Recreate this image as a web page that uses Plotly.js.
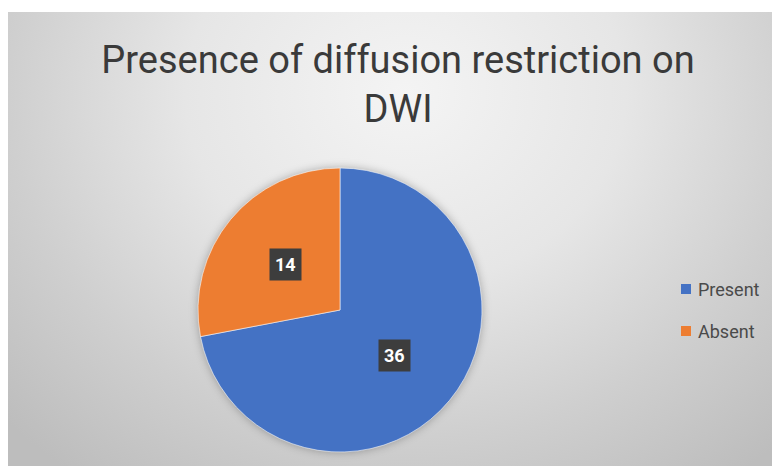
<!DOCTYPE html>
<html>
<head>
<meta charset="utf-8">
<script src="https://cdn.plot.ly/plotly-3.0.1.min.js"></script>
<style>
  html, body { margin: 0; padding: 0; background: #ffffff; }
  #wrap { position: relative; width: 772px; height: 466px; overflow: hidden; }
  #bg {
    position: absolute; left: 8px; top: 12px; width: 764px; height: 454px;
    background: radial-gradient(ellipse 72% 105% at 52% 18%, #f4f4f4 0%, #e6e6e6 40%, #cfcfcf 72%, #bdbdbd 100%);
  }
  #chart { position: absolute; left: 0; top: 0; width: 772px; height: 466px; }
  #chart .pielayer { filter: drop-shadow(0 0 4px rgba(0,0,0,0.28)); }
</style>
</head>
<body>
<div id="wrap">
  <div id="bg"></div>
  <div id="chart"></div>
</div>
<script>
// Diffusion restriction counts on DWI
const categories = ['Present', 'Absent'];
const counts = [36, 14];
const sliceColors = ['#4472C4', '#ED7D31'];

const W = 772, H = 466;
// pie geometry in pixels
const cx = 340, cy = 310, r = 142;

// place a dark value box at the middle of each slice (clockwise from 12 o'clock)
const total = counts.reduce((a, b) => a + b, 0);
const annotations = [];
let start = 0;
counts.forEach((v, i) => {
  const mid = (start + v / 2) / total * 2 * Math.PI;
  start += v;
  const px = cx + 0.5 * r * Math.sin(mid);
  const py = cy - 0.5 * r * Math.cos(mid);
  annotations.push({
    x: px / W, y: 1 - py / H, xref: 'paper', yref: 'paper',
    text: '<b>' + v + '</b>', showarrow: false,
    font: { family: 'Roboto, Arial, sans-serif', size: 18, color: '#ffffff' },
    bgcolor: '#3d3d3d', borderpad: 5, xanchor: 'center', yanchor: 'middle'
  });
});

// legend drawn beside the pie
const shapes = [];
const legX = 681, legY0 = 289, legStep = 42, sq = 10;
categories.forEach((name, i) => {
  const y = legY0 + i * legStep;
  shapes.push({
    type: 'rect', xref: 'paper', yref: 'paper',
    x0: legX / W, x1: (legX + sq) / W,
    y0: 1 - (y + sq / 2) / H, y1: 1 - (y - sq / 2) / H,
    fillcolor: sliceColors[i], line: { width: 0 }
  });
  annotations.push({
    x: (legX + sq + 5) / W, y: 1 - y / H, xref: 'paper', yref: 'paper',
    text: name, showarrow: false, xanchor: 'left', yanchor: 'middle',
    font: { family: 'Roboto, Arial, sans-serif', size: 18, color: '#4a4a4a' }
  });
});

const trace = {
  type: 'pie',
  labels: categories,
  values: counts,
  sort: false,
  direction: 'clockwise',
  rotation: 0,
  textinfo: 'none',
  hoverinfo: 'label+value',
  showlegend: false,
  marker: { colors: sliceColors, line: { color: 'rgba(255,255,255,0.55)', width: 1 } },
  domain: { x: [(cx - r) / W, (cx + r) / W], y: [1 - (cy + r) / H, 1 - (cy - r) / H] }
};

const layout = {
  width: W, height: H,
  margin: { l: 0, r: 0, t: 0, b: 0 },
  paper_bgcolor: 'rgba(0,0,0,0)',
  plot_bgcolor: 'rgba(0,0,0,0)',
  title: {
    text: 'Presence of diffusion restriction on<br>DWI',
    font: { family: 'Roboto, Arial, sans-serif', size: 38, color: '#3a3a3a' },
    x: 398 / W, xanchor: 'center', xref: 'paper',
    y: 1 - 73 / H, yanchor: 'middle', yref: 'paper'
  },
  annotations: annotations,
  shapes: shapes,
  showlegend: false
};

Plotly.newPlot('chart', [trace], layout, { displayModeBar: false, staticPlot: true });
</script>
</body>
</html>
